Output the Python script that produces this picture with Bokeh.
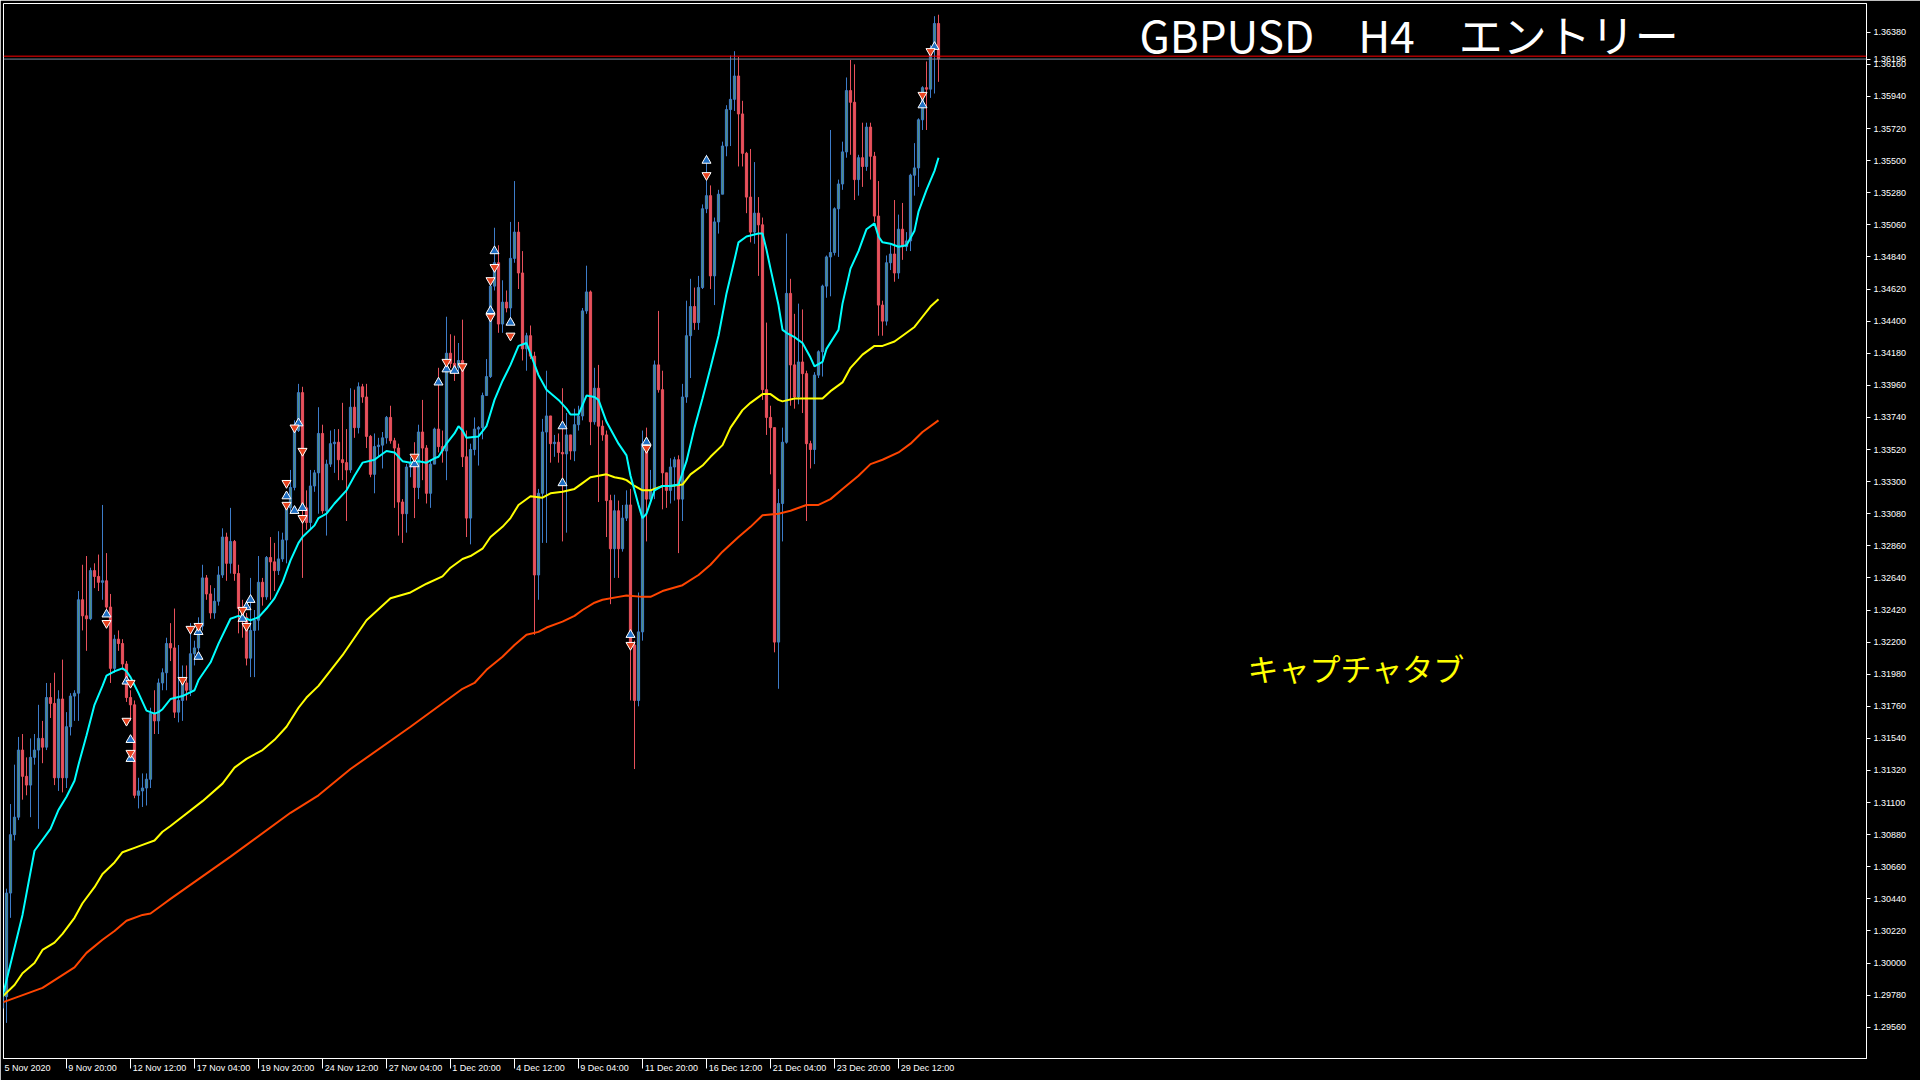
from bokeh.plotting import figure
from bokeh.models import (Range1d, LinearAxis, FixedTicker, PrintfTickFormatter, Span,
                          Label, ColumnDataSource)
from bokeh.embed import file_html
from bokeh.resources import INLINE

# ---- GBPUSD H4, 5 Nov 2020 -> 31 Dec 2020 -------------------------------
first_open = 1.2969
close = [
    1.2977, 1.3048, 1.3088, 1.3100, 1.3146, 1.3128, 1.3122, 1.3141, 1.3146, 1.3154,
    1.3148, 1.3182, 1.3178, 1.3127, 1.3181, 1.3127, 1.3162, 1.3183, 1.3185, 1.3249,
    1.3238, 1.3236, 1.3269, 1.3265, 1.3261, 1.3262, 1.3244, 1.3202, 1.3222, 1.3219,
    1.3205, 1.3182, 1.3177, 1.3115, 1.3118, 1.3120, 1.3126, 1.3171, 1.3166, 1.3192,
    1.3199, 1.3219, 1.3216, 1.3172, 1.3180, 1.3192, 1.3187, 1.3212, 1.3216, 1.3231,
    1.3264, 1.3253, 1.3240, 1.3248, 1.3266, 1.3292, 1.3274, 1.3289, 1.3267, 1.3243,
    1.3237, 1.3209, 1.3228, 1.3235, 1.3261, 1.3251, 1.3278, 1.3275, 1.3269, 1.3277,
    1.3290, 1.3312, 1.3326, 1.3365, 1.3391, 1.3312, 1.3302, 1.3327, 1.3336, 1.3363,
    1.3310, 1.3342, 1.3356, 1.3357, 1.3345, 1.3343, 1.3338, 1.3381, 1.3367, 1.3395,
    1.3388, 1.3361, 1.3335, 1.3354, 1.3355, 1.3360, 1.3374, 1.3358, 1.3353, 1.3316,
    1.3308, 1.3340, 1.3343, 1.3326, 1.3364, 1.3353, 1.3322, 1.3342, 1.3366, 1.3354,
    1.3351, 1.3418, 1.3411, 1.3408, 1.3413, 1.3347, 1.3305, 1.3352, 1.3366, 1.3367,
    1.3389, 1.3402, 1.3464, 1.3480, 1.3438, 1.3453, 1.3449, 1.3483, 1.3501, 1.3473,
    1.3421, 1.3430, 1.3416, 1.3266, 1.3322, 1.3364, 1.3375, 1.3356, 1.3357, 1.3350,
    1.3349, 1.3362, 1.3351, 1.3369, 1.3375, 1.3447, 1.3460, 1.3371, 1.3394, 1.3368,
    1.3362, 1.3317, 1.3284, 1.3310, 1.3284, 1.3305, 1.3314, 1.3218, 1.3180, 1.3227,
    1.3356, 1.3318, 1.3324, 1.3410, 1.3393, 1.3336, 1.3324, 1.3340, 1.3345, 1.3318,
    1.3388, 1.3430, 1.3450, 1.3439, 1.3463, 1.3517, 1.3526, 1.3471, 1.3508, 1.3527,
    1.3560, 1.3585, 1.3592, 1.3608, 1.3582, 1.3555, 1.3525, 1.3501, 1.3514, 1.3506,
    1.3393, 1.3374, 1.3367, 1.3220, 1.3315, 1.3357, 1.3459, 1.3410, 1.3388, 1.3412,
    1.3404, 1.3356, 1.3352, 1.3403, 1.3419, 1.3464, 1.3484, 1.3487, 1.3517, 1.3534,
    1.3556, 1.3598, 1.3590, 1.3537, 1.3552, 1.3546, 1.3573, 1.3553, 1.3512, 1.3451,
    1.3440, 1.3480, 1.3486, 1.3473, 1.3503, 1.3491, 1.3495, 1.3540, 1.3545, 1.3578,
    1.3600, 1.3599, 1.3627, 1.3644, 1.36196,
]
high = [
    1.2981, 1.3051, 1.3109, 1.3136, 1.3155, 1.3157, 1.3141, 1.3154, 1.3157, 1.3177,
    1.3166, 1.3192, 1.3192, 1.3199, 1.3187, 1.3208, 1.3172, 1.3185, 1.3187, 1.3255,
    1.3273, 1.3279, 1.3271, 1.3274, 1.3280, 1.3314, 1.3281, 1.3253, 1.3225, 1.3228,
    1.3222, 1.3207, 1.3187, 1.3180, 1.3127, 1.3130, 1.3130, 1.3175, 1.3187, 1.3195,
    1.3202, 1.3223, 1.3233, 1.3243, 1.3218, 1.3204, 1.3204, 1.3233, 1.3221, 1.3237,
    1.3273, 1.3266, 1.3259, 1.3257, 1.3272, 1.3298, 1.3295, 1.3312, 1.3290, 1.3273,
    1.3249, 1.3240, 1.3264, 1.3242, 1.3279, 1.3264, 1.3279, 1.3292, 1.3288, 1.3296,
    1.3295, 1.3315, 1.3338, 1.3372, 1.3397, 1.3395, 1.3324, 1.3338, 1.3338, 1.3381,
    1.3369, 1.3345, 1.3365, 1.3366, 1.3366, 1.3384, 1.3366, 1.3394, 1.3393, 1.3398,
    1.3397, 1.3397, 1.3362, 1.3363, 1.3360, 1.3364, 1.3375, 1.3382, 1.3360, 1.3356,
    1.3318, 1.3342, 1.3347, 1.3357, 1.3369, 1.3386, 1.3355, 1.3345, 1.3367, 1.3408,
    1.3365, 1.3443, 1.3431, 1.3430, 1.3425, 1.3441, 1.3365, 1.3356, 1.3374, 1.3368,
    1.3391, 1.3414, 1.3468, 1.3504, 1.3492, 1.3468, 1.3461, 1.3508, 1.3536, 1.3508,
    1.3488, 1.3432, 1.3437, 1.3419, 1.3325, 1.3373, 1.3406, 1.3375, 1.3362, 1.3363,
    1.3394, 1.3377, 1.3362, 1.3380, 1.3382, 1.3449, 1.3478, 1.3461, 1.3408, 1.3410,
    1.3372, 1.3365, 1.3321, 1.3321, 1.3317, 1.3314, 1.3324, 1.3325, 1.3221, 1.3254,
    1.3365, 1.3367, 1.3338, 1.3413, 1.3447, 1.3406, 1.3336, 1.3346, 1.3347, 1.3348,
    1.3397, 1.3454, 1.3469, 1.3463, 1.3471, 1.3520, 1.3554, 1.3533, 1.3511, 1.3530,
    1.3563, 1.3588, 1.3622, 1.3625, 1.3621, 1.3591, 1.3556, 1.3558, 1.3549, 1.3525,
    1.3511, 1.3439, 1.3382, 1.3367, 1.3325, 1.3367, 1.3500, 1.3469, 1.3445, 1.3452,
    1.3448, 1.3406, 1.3358, 1.3405, 1.3420, 1.3465, 1.3485, 1.3571, 1.3518, 1.3537,
    1.3563, 1.3607, 1.3619, 1.3616, 1.3554, 1.3576, 1.3576, 1.3576, 1.3556, 1.3536,
    1.3454, 1.3485, 1.3492, 1.3523, 1.3513, 1.3521, 1.3501, 1.3541, 1.3562, 1.3579,
    1.3601, 1.3618, 1.3629, 1.3649, 1.3650,
]
low = [
    1.2966, 1.2959, 1.3031, 1.3084, 1.3098, 1.3112, 1.3115, 1.3100, 1.3136, 1.3092,
    1.3137, 1.3146, 1.3168, 1.3122, 1.3118, 1.3117, 1.3120, 1.3156, 1.3166, 1.3166,
    1.3228, 1.3214, 1.3235, 1.3257, 1.3255, 1.3249, 1.3240, 1.3192, 1.3199, 1.3214,
    1.3201, 1.3179, 1.3166, 1.3113, 1.3106, 1.3107, 1.3108, 1.3120, 1.3157, 1.3157,
    1.3187, 1.3187, 1.3207, 1.3168, 1.3165, 1.3166, 1.3180, 1.3183, 1.3204, 1.3214,
    1.3228, 1.3249, 1.3236, 1.3236, 1.3245, 1.3264, 1.3262, 1.3267, 1.3262, 1.3226,
    1.3223, 1.3204, 1.3196, 1.3196, 1.3228, 1.3245, 1.3249, 1.3249, 1.3255, 1.3266,
    1.3275, 1.3274, 1.3309, 1.3324, 1.3364, 1.3264, 1.3297, 1.3297, 1.3323, 1.3308,
    1.3308, 1.3293, 1.3340, 1.3336, 1.3331, 1.3331, 1.3303, 1.3336, 1.3360, 1.3363,
    1.3384, 1.3353, 1.3333, 1.3322, 1.3347, 1.3339, 1.3356, 1.3356, 1.3312, 1.3293,
    1.3288, 1.3295, 1.3333, 1.3305, 1.3318, 1.3331, 1.3315, 1.3312, 1.3346, 1.3350,
    1.3343, 1.3331, 1.3408, 1.3399, 1.3405, 1.3340, 1.3292, 1.3287, 1.3348, 1.3341,
    1.3359, 1.3399, 1.3401, 1.3461, 1.3432, 1.3432, 1.3446, 1.3442, 1.3480, 1.3462,
    1.3413, 1.3406, 1.3414, 1.3225, 1.3249, 1.3288, 1.3288, 1.3343, 1.3347, 1.3343,
    1.3289, 1.3295, 1.3345, 1.3344, 1.3365, 1.3372, 1.3445, 1.3355, 1.3369, 1.3316,
    1.3358, 1.3292, 1.3246, 1.3264, 1.3264, 1.3282, 1.3303, 1.3180, 1.3133, 1.3176,
    1.3221, 1.3289, 1.3316, 1.3318, 1.3391, 1.3311, 1.3312, 1.3315, 1.3317, 1.3281,
    1.3303, 1.3384, 1.3401, 1.3434, 1.3434, 1.3462, 1.3514, 1.3462, 1.3451, 1.3500,
    1.3543, 1.3553, 1.3560, 1.3584, 1.3546, 1.3546, 1.3514, 1.3494, 1.3493, 1.3471,
    1.3386, 1.3362, 1.3335, 1.3213, 1.3188, 1.3289, 1.3356, 1.3382, 1.3380, 1.3383,
    1.3377, 1.3303, 1.3339, 1.3342, 1.3401, 1.3402, 1.3456, 1.3457, 1.3485, 1.3484,
    1.3530, 1.3552, 1.3554, 1.3523, 1.3526, 1.3532, 1.3543, 1.3537, 1.3508, 1.3430,
    1.3430, 1.3437, 1.3475, 1.3467, 1.3469, 1.3482, 1.3488, 1.3488, 1.3526, 1.3532,
    1.3571, 1.3571, 1.3593, 1.3596, 1.3604,
]

# moving averages (bar index, price)
fast_idx = [0, 5, 8, 12, 14, 16, 18, 19, 21, 23, 25, 26, 28, 30, 31, 32, 34, 36, 38, 39,
            40, 42, 45, 48, 49, 52, 54, 57, 59, 62, 64, 66, 68, 70, 72, 74, 75, 78, 79, 81,
            83, 86, 88, 90, 93, 94, 96, 98, 100, 102, 104, 106, 108, 109, 111, 113, 114, 115, 116, 119,
            121, 123, 125, 127, 129, 131, 134, 136, 139, 141, 142, 144, 146, 148, 149, 151, 154, 156, 157, 159,
            160, 161, 163, 165, 167, 169, 171, 173, 175, 177, 179, 181, 183, 184, 186, 189, 190, 191, 192, 194,
            195, 196, 198, 200, 202, 203, 205, 206, 209, 210, 212, 214, 216, 218, 219, 220, 222, 224, 226, 228,
            229, 231, 233, 234]
fast_val = [1.2977, 1.3033, 1.3077, 1.3092, 1.3105, 1.3114, 1.3125, 1.3136, 1.3156, 1.3177,
            1.3190, 1.3197, 1.3200, 1.3202, 1.3200, 1.3196, 1.3185, 1.3173, 1.3171, 1.3172,
            1.3174, 1.3181, 1.3183, 1.3187, 1.3194, 1.3206, 1.3219, 1.3236, 1.3238, 1.3235,
            1.3237, 1.3243, 1.3250, 1.3261, 1.3276, 1.3288, 1.3292, 1.3300, 1.3305, 1.3308,
            1.3315, 1.3324, 1.3334, 1.3343, 1.3345, 1.3347, 1.3351, 1.3350, 1.3344, 1.3343,
            1.3344, 1.3343, 1.3346, 1.3347, 1.3356, 1.3363, 1.3368, 1.3365, 1.3360, 1.3361,
            1.3368, 1.3386, 1.3399, 1.3410, 1.3423, 1.3425, 1.3403, 1.3393, 1.3386, 1.3380,
            1.3376, 1.3376, 1.3389, 1.3388, 1.3386, 1.3371, 1.3356, 1.3348, 1.3334, 1.3314,
            1.3305, 1.3308, 1.3324, 1.3327, 1.3327, 1.3328, 1.3344, 1.3367, 1.3387, 1.3408,
            1.3430, 1.3459, 1.3482, 1.3494, 1.3498, 1.3500, 1.3500, 1.3489, 1.3476, 1.3451,
            1.3434, 1.3432, 1.3429, 1.3425, 1.3415, 1.3409, 1.3412, 1.3421, 1.3434, 1.3452,
            1.3476, 1.3488, 1.3503, 1.3507, 1.3498, 1.3494, 1.3493, 1.3491, 1.3492, 1.3502,
            1.3515, 1.3530, 1.3543, 1.3552]

mid_idx = [0, 3, 5, 8, 10, 13, 15, 18, 20, 23, 25, 28, 30, 33, 35, 38, 40, 42, 50, 55,
           58, 61, 65, 68, 71, 74, 76, 79, 85, 91, 97, 102, 106, 110, 112, 115, 117, 120, 122, 125,
           127, 129, 132, 135, 137, 140, 143, 145, 147, 149, 151, 153, 155, 156, 158, 160, 162, 165, 167, 170,
           172, 175, 177, 180, 182, 185, 187, 190, 192, 194, 195, 198, 205, 207, 210, 212, 215, 218, 220, 223,
           225, 228, 230, 232, 234]
mid_val = [1.2977, 1.2985, 1.2993, 1.3000, 1.3009, 1.3014, 1.3020, 1.3031, 1.3041, 1.3052,
           1.3061, 1.3069, 1.3076, 1.3079, 1.3081, 1.3084, 1.3090, 1.3094, 1.3111, 1.3123,
           1.3134, 1.3140, 1.3146, 1.3153, 1.3162, 1.3175, 1.3182, 1.3190, 1.3211, 1.3235,
           1.3250, 1.3254, 1.3260, 1.3265, 1.3271, 1.3277, 1.3279, 1.3284, 1.3292, 1.3299,
           1.3305, 1.3314, 1.3320, 1.3319, 1.3322, 1.3323, 1.3325, 1.3329, 1.3333, 1.3334,
           1.3335, 1.3333, 1.3332, 1.3331, 1.3327, 1.3324, 1.3324, 1.3327, 1.3327, 1.3328,
           1.3335, 1.3341, 1.3347, 1.3355, 1.3367, 1.3379, 1.3384, 1.3390, 1.3390, 1.3386,
           1.3385, 1.3387, 1.3387, 1.3392, 1.3398, 1.3408, 1.3417, 1.3423, 1.3423, 1.3426,
           1.3430, 1.3436, 1.3443, 1.3450, 1.3455]

slow_idx = [0, 4, 10, 14, 18, 21, 25, 28, 31, 35, 37, 40, 42, 57, 72, 79, 87, 102, 115, 118,
            121, 125, 128, 131, 134, 136, 140, 143, 145, 148, 150, 154, 156, 160, 162, 165, 170, 174, 177, 180,
            184, 187, 190, 194, 197, 201, 204, 207, 210, 214, 217, 220, 224, 227, 230, 234]
slow_val = [1.2973, 1.2977, 1.2983, 1.2990, 1.2997, 1.3007, 1.3016, 1.3022, 1.3029, 1.3033,
            1.3034, 1.3040, 1.3044, 1.3073, 1.3103, 1.3115, 1.3133, 1.3162, 1.3188, 1.3192,
            1.3201, 1.3210, 1.3218, 1.3225, 1.3227, 1.3230, 1.3234, 1.3238, 1.3242, 1.3247,
            1.3249, 1.3251, 1.3252, 1.3251, 1.3251, 1.3255, 1.3259, 1.3266, 1.3273, 1.3282,
            1.3292, 1.3299, 1.3307, 1.3308, 1.3310, 1.3314, 1.3314, 1.3318, 1.3325, 1.3334,
            1.3342, 1.3345, 1.3350, 1.3356, 1.3364, 1.3372]

# signal arrows
up_idx = [26, 31, 32, 32, 49, 49, 60, 61, 62, 71, 73, 74, 75, 103, 109, 111, 113, 122, 123, 127,
          140, 140, 157, 161, 176, 230, 233]
up_val = [1.3239, 1.3193, 1.3153, 1.3140, 1.3227, 1.3210, 1.3236, 1.3244, 1.3249, 1.3320,
          1.3310, 1.3370, 1.3312, 1.3342, 1.3398, 1.3407, 1.3406, 1.3447, 1.3488, 1.3439,
          1.3368, 1.3329, 1.3225, 1.3357, 1.3550, 1.3588, 1.3628]
dn_idx = [26, 32, 31, 32, 45, 47, 49, 60, 61, 71, 71, 73, 75, 75, 103, 111, 115, 122, 122, 123,
          127, 157, 161, 176, 230, 232]
dn_val = [1.3233, 1.3192, 1.3166, 1.3144, 1.3194, 1.3229, 1.3231, 1.3242, 1.3231, 1.3314,
          1.3329, 1.3367, 1.3351, 1.3305, 1.3347, 1.3412, 1.3409, 1.3468, 1.3443, 1.3477,
          1.3430, 1.3218, 1.3353, 1.3540, 1.3595, 1.3625]

bid = 1.36196
ask = 1.36216

date_idx = [0, 16, 32, 48, 64, 80, 96, 112, 128, 144, 160, 176, 192, 208, 224]
date_labels = ["5 Nov 2020", "9 Nov 20:00", "12 Nov 12:00", "17 Nov 04:00", "19 Nov 20:00",
               "24 Nov 12:00", "27 Nov 04:00", "1 Dec 20:00", "4 Dec 12:00", "9 Dec 04:00",
               "11 Dec 20:00", "16 Dec 12:00", "21 Dec 04:00", "23 Dec 20:00", "29 Dec 12:00"]

price_ticks = [round(1.2956 + 0.0022 * k, 4) for k in range(32)]

# ---- candles ----------------------------------------------------------------
BULL_BODY, BULL_EDGE = "#4f8f80", "#3d7cc9"
BEAR_BODY, BEAR_EDGE = "#e8515c", "#e8515c"

n = len(close)
opens = [first_open] + close[:-1]
idx = list(range(n))
is_bull = [c >= o for o, c in zip(opens, close)]
src = ColumnDataSource(dict(
    x=idx,
    high=high,
    low=low,
    top=[max(o, c) for o, c in zip(opens, close)],
    bot=[min(o, c) for o, c in zip(opens, close)],
    fill=[BULL_BODY if b else BEAR_BODY for b in is_bull],
    edge=[BULL_EDGE if b else BEAR_EDGE for b in is_bull],
))

W, H = 1920, 1080
PX_PER_BAR = 4
p = figure(width=W, height=H, output_backend="svg", toolbar_location=None,
           x_axis_location=None, y_axis_location=None,
           x_range=Range1d(0.25, 466.0), y_range=Range1d(1.29346, 1.36577))
p.min_border_left = 3
p.min_border_top = 3
p.min_border_right = 54
p.min_border_bottom = 22
p.background_fill_color = "black"
p.border_fill_color = "black"
p.outline_line_color = "white"
p.outline_line_width = 1
p.grid.visible = False

p.segment(x0="x", y0="low", x1="x", y1="high", line_color="edge", line_width=1, source=src)
p.vbar(x="x", top="top", bottom="bot", width=0.55, fill_color="fill", line_color="edge",
       line_width=1, source=src)

p.line(slow_idx, slow_val, line_color="#ff4500", line_width=2)
p.line(mid_idx, mid_val, line_color="#ffff00", line_width=2)
p.line(fast_idx, fast_val, line_color="#00ffff", line_width=2)

p.scatter(up_idx, up_val, marker="triangle", size=9, fill_color="#1f6fc4",
          line_color="white", line_width=1)
p.scatter(dn_idx, dn_val, marker="inverted_triangle", size=9, fill_color="#e8431f",
          line_color="white", line_width=1)

p.add_layout(Span(location=ask, dimension="width", line_color="#ff0000", line_width=1))
p.add_layout(Span(location=bid, dimension="width", line_color="#778899", line_width=1))

# price scale on the right (the current bid is listed with the regular levels)
ax_r = LinearAxis(ticker=FixedTicker(ticks=price_ticks + [bid]),
                  formatter=PrintfTickFormatter(format="%.5f"))
ax_r.axis_line_color = "white"
ax_r.major_tick_line_color = "white"
ax_r.major_tick_out = 4
ax_r.major_tick_in = 0
ax_r.minor_tick_line_color = None
ax_r.major_label_text_color = "white"
ax_r.major_label_text_font = "Liberation Sans"
ax_r.major_label_text_font_size = "9px"
ax_r.major_label_standoff = 3
p.add_layout(ax_r, "right")

# time scale: short marks at each dated bar, text set just to the right of its mark
GLYPH_W = {" ": 278, ":": 278, "N": 722, "o": 556, "v": 500, "D": 722, "e": 556, "c": 500}
FONT_PX = 9


def text_width_px(s):
    return sum(GLYPH_W.get(ch, 556) for ch in s) * FONT_PX / 1000.0


label_pos = [round((i + (2 + text_width_px(s) / 2) / PX_PER_BAR) * 4) / 4
             for i, s in zip(date_idx, date_labels)]
ax_b = LinearAxis(ticker=FixedTicker(ticks=label_pos, minor_ticks=date_idx))
ax_b.major_label_overrides = {pos: s for pos, s in zip(label_pos, date_labels)}
ax_b.axis_line_color = "white"
ax_b.major_tick_line_color = None
ax_b.major_tick_out = 0
ax_b.major_tick_in = 0
ax_b.minor_tick_line_color = "white"
ax_b.minor_tick_out = 10
ax_b.minor_tick_in = 0
ax_b.major_label_text_color = "white"
ax_b.major_label_text_font = "Liberation Sans"
ax_b.major_label_text_font_size = "9px"
ax_b.major_label_standoff = -6
p.add_layout(ax_b, "below")

p.add_layout(Label(x=1136, y=1025, x_units="screen", y_units="screen",
                   text="GBPUSD\u3000H4\u3000エントリー", text_color="white",
                   text_font="Noto Sans CJK JP", text_font_size="44px",
                   text_baseline="alphabetic", text_align="left"))
p.add_layout(Label(x=1244, y=391, x_units="screen", y_units="screen",
                   text="キャプチャタブ", text_color="#ffff00",
                   text_font="Noto Sans CJK JP", text_font_size="31px",
                   text_baseline="middle", text_align="left"))

open("out.html", "w").write(file_html(p, INLINE))
